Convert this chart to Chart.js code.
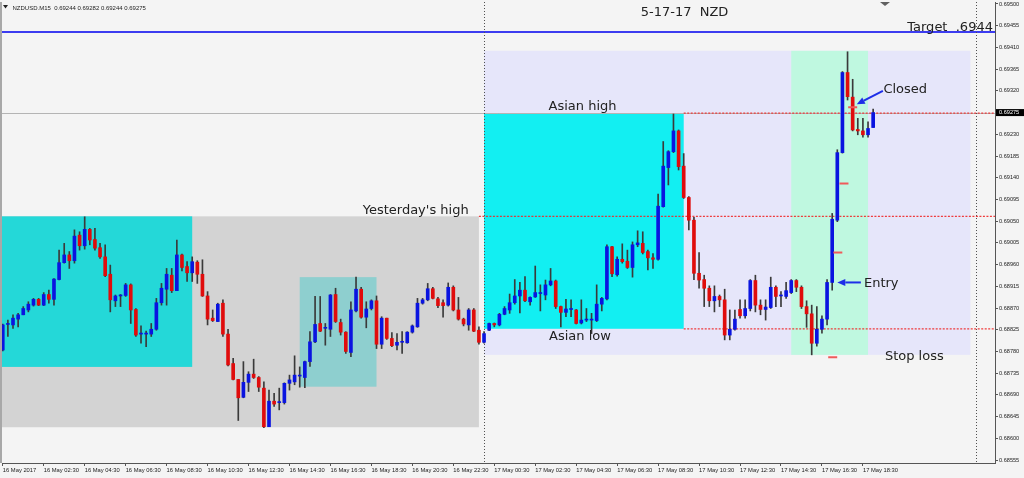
<!DOCTYPE html>
<html>
<head>
<meta charset="utf-8">
<script src="https://cdn.jsdelivr.net/npm/chart.js@4.4.0/dist/chart.umd.min.js"></script>
<style>
html,body{margin:0;padding:0;background:#f4f4f4;overflow:hidden}
canvas{display:block}
</style>
</head>
<body>
<canvas id="c" width="1024" height="478"></canvas>
<script>
// NZDUSD M15, bar 0 = 16 May 00:30, one bar every 15 minutes
const open = [
0.68783,0.68836,0.68835,0.68847,0.68856,0.68866,0.68876,0.68888,0.68876,0.68898,
0.68888,0.68929,0.68964,0.68980,0.68968,0.69021,0.68999,0.69033,0.69012,0.68995,
0.68976,0.68940,0.68885,0.68895,0.68896,0.68918,0.68867,0.68816,0.68816,0.68816,
0.68826,0.68881,0.68909,0.68938,0.68906,0.68980,0.68956,0.68943,0.68965,0.68940,
0.68895,0.68849,0.68842,0.68880,0.68816,0.68755,0.68722,0.68685,0.68716,0.68733,
0.68726,0.68704,0.68624,0.68677,0.68674,0.68674,0.68714,0.68717,0.68729,0.68726,
0.68759,0.68800,0.68838,0.68828,0.68826,0.68898,0.68840,0.68820,0.68778,0.68864,
0.68909,0.68851,0.68869,0.68885,0.68795,0.68849,0.68807,0.68793,0.68799,0.68798,
0.68820,0.68831,0.68880,0.68887,0.68910,0.68889,0.68881,0.68876,0.68913,0.68866,
0.68847,0.68835,0.68866,0.68824,0.68799,0.68824,0.68838,0.68835,0.68857,0.68866,
0.68881,0.68895,0.68907,0.68883,0.68893,0.68900,0.68897,0.68918,0.68926,0.68873,
0.68861,0.68867,0.68866,0.68839,0.68845,0.68845,0.68844,0.68878,0.68889,0.68997,
0.68939,0.68971,0.68967,0.68954,0.69001,0.69004,0.68987,0.68974,0.68971,0.69080,
0.69161,0.69194,0.69237,0.69164,0.69099,0.69052,0.68942,0.68929,0.68911,0.68885,
0.68894,0.68887,0.68814,0.68826,0.68867,0.68854,0.68869,0.68927,0.68876,0.68867,
0.68871,0.68913,0.68895,0.68894,0.68902,0.68927,0.68913,0.68873,0.68858,0.68797,
0.68826,0.68847,0.68923,0.69052,0.69192,0.69358,0.69307,0.69240,0.69237,0.69229,
0.69244];
const high = [
0.68837,0.68845,0.68856,0.68859,0.68873,0.68883,0.68890,0.68890,0.68902,0.68907,
0.68931,0.68990,0.69004,0.68987,0.69032,0.69028,0.69059,0.69035,0.69035,0.69004,
0.69001,0.68959,0.68897,0.68898,0.68921,0.68920,0.68869,0.68833,0.68822,0.68838,
0.68890,0.68921,0.68952,0.68952,0.69011,0.68982,0.68966,0.68976,0.68968,0.68970,
0.68904,0.68866,0.68880,0.68887,0.68826,0.68766,0.68722,0.68759,0.68738,0.68764,
0.68728,0.68717,0.68700,0.68693,0.68704,0.68715,0.68731,0.68771,0.68748,0.68760,
0.68821,0.68894,0.68894,0.68838,0.68898,0.68911,0.68847,0.68821,0.68883,0.68934,
0.68913,0.68883,0.68887,0.68895,0.68852,0.68849,0.68819,0.68817,0.68821,0.68821,
0.68835,0.68890,0.68890,0.68921,0.68913,0.68892,0.68887,0.68922,0.68916,0.68892,
0.68849,0.68869,0.68869,0.68831,0.68821,0.68839,0.68839,0.68859,0.68873,0.68899,
0.68929,0.68923,0.68935,0.68893,0.68957,0.68918,0.68928,0.68952,0.68928,0.68874,
0.68888,0.68887,0.68867,0.68887,0.68869,0.68859,0.68918,0.68892,0.69001,0.68998,
0.68976,0.69003,0.68990,0.69007,0.69030,0.69028,0.68990,0.68983,0.69106,0.69215,
0.69196,0.69272,0.69239,0.69190,0.69101,0.69058,0.68985,0.68938,0.68916,0.68916,
0.68897,0.68909,0.68866,0.68866,0.68887,0.68887,0.68929,0.68938,0.68887,0.68887,
0.68934,0.68916,0.68904,0.68923,0.68929,0.68929,0.68916,0.68885,0.68876,0.68873,
0.68854,0.68929,0.69066,0.69198,0.69360,0.69401,0.69344,0.69263,0.69263,0.69256,
0.69282];
const low = [
0.68781,0.68811,0.68828,0.68831,0.68856,0.68862,0.68874,0.68875,0.68875,0.68880,
0.68876,0.68928,0.68963,0.68952,0.68963,0.68990,0.68992,0.69001,0.68990,0.68973,
0.68935,0.68862,0.68873,0.68873,0.68894,0.68838,0.68811,0.68797,0.68790,0.68811,
0.68824,0.68876,0.68876,0.68902,0.68906,0.68947,0.68925,0.68925,0.68921,0.68894,
0.68835,0.68842,0.68842,0.68811,0.68750,0.68721,0.68637,0.68684,0.68697,0.68724,
0.68697,0.68622,0.68624,0.68666,0.68659,0.68671,0.68700,0.68711,0.68706,0.68705,
0.68749,0.68798,0.68821,0.68793,0.68811,0.68840,0.68814,0.68776,0.68769,0.68862,
0.68849,0.68829,0.68866,0.68786,0.68786,0.68805,0.68790,0.68783,0.68776,0.68797,
0.68818,0.68830,0.68878,0.68885,0.68889,0.68871,0.68851,0.68874,0.68864,0.68845,
0.68833,0.68824,0.68821,0.68795,0.68797,0.68823,0.68831,0.68833,0.68856,0.68859,
0.68878,0.68860,0.68883,0.68876,0.68892,0.68864,0.68887,0.68916,0.68869,0.68831,
0.68852,0.68852,0.68837,0.68837,0.68842,0.68817,0.68842,0.68864,0.68887,0.68935,
0.68936,0.68963,0.68952,0.68934,0.68997,0.68982,0.68949,0.68952,0.68969,0.69079,
0.69125,0.69192,0.69156,0.69097,0.69032,0.68929,0.68911,0.68873,0.68873,0.68862,
0.68873,0.68804,0.68804,0.68824,0.68849,0.68849,0.68864,0.68862,0.68856,0.68845,
0.68869,0.68873,0.68873,0.68890,0.68900,0.68904,0.68869,0.68830,0.68773,0.68791,
0.68818,0.68835,0.68907,0.69049,0.69191,0.69301,0.69237,0.69229,0.69224,0.69224,
0.69244];
const close = [
0.68835,0.68837,0.68849,0.68856,0.68869,0.68878,0.68888,0.68876,0.68898,0.68888,
0.68930,0.68964,0.68980,0.68968,0.69019,0.68999,0.69033,0.69011,0.68994,0.68976,
0.68937,0.68887,0.68895,0.68896,0.68918,0.68866,0.68814,0.68816,0.68816,0.68826,
0.68881,0.68911,0.68940,0.68906,0.68980,0.68954,0.68943,0.68966,0.68940,0.68895,
0.68847,0.68844,0.68878,0.68816,0.68752,0.68722,0.68684,0.68716,0.68733,0.68726,
0.68706,0.68624,0.68677,0.68671,0.68675,0.68714,0.68721,0.68731,0.68729,0.68759,
0.68800,0.68836,0.68822,0.68828,0.68897,0.68842,0.68820,0.68780,0.68866,0.68909,
0.68851,0.68868,0.68885,0.68795,0.68849,0.68807,0.68792,0.68799,0.68799,0.68820,
0.68833,0.68880,0.68887,0.68910,0.68890,0.68875,0.68875,0.68913,0.68866,0.68847,
0.68837,0.68866,0.68822,0.68799,0.68817,0.68838,0.68835,0.68857,0.68869,0.68881,
0.68895,0.68907,0.68885,0.68892,0.68902,0.68901,0.68918,0.68926,0.68873,0.68861,
0.68868,0.68867,0.68838,0.68845,0.68846,0.68846,0.68878,0.68890,0.68997,0.68941,
0.68971,0.68966,0.68954,0.69001,0.69005,0.68985,0.68974,0.68971,0.69081,0.69164,
0.69194,0.69237,0.69163,0.69099,0.69052,0.68942,0.68928,0.68911,0.68885,0.68894,
0.68887,0.68814,0.68826,0.68847,0.68854,0.68869,0.68927,0.68876,0.68867,0.68872,
0.68913,0.68894,0.68895,0.68906,0.68927,0.68913,0.68873,0.68858,0.68797,0.68826,
0.68847,0.68923,0.69054,0.69192,0.69358,0.69308,0.69239,0.69237,0.69229,0.69242,
0.69275];

const xTickBars = [0,8,16,24,32,40,48,56,64,72,80,88,96,104,112,120,128,136,144,152,160,168];
const xTickLabels = ["16 May 2017","16 May 02:30","16 May 04:30","16 May 06:30","16 May 08:30",
  "16 May 10:30","16 May 12:30","16 May 14:30","16 May 16:30","16 May 18:30","16 May 20:30",
  "16 May 22:30","17 May 00:30","17 May 02:30","17 May 04:30","17 May 06:30","17 May 08:30",
  "17 May 10:30","17 May 12:30","17 May 14:30","17 May 16:30","17 May 18:30"];
const yTicks = [0.69500,0.69455,0.69410,0.69365,0.69320,0.69275,0.69230,0.69185,0.69140,0.69095,
  0.69050,0.69005,0.68960,0.68915,0.68870,0.68825,0.68780,0.68735,0.68690,0.68645,0.68600,0.68555];

// boxes: [from bar, to bar, top price, bottom price]
const yesterdayRange = [-2, 93, 0.69060, 0.68623];
const yesterdayAsia = [-2, 37, 0.69060, 0.68748];
const yesterdayMid = [58, 73, 0.68934, 0.68707];
const todayRange = [94, 189, 0.69403, 0.68773];
const todayAsia = [94, 133, 0.69274, 0.68827];
const tradeWindow = [154, 169, 0.69403, 0.68773];

// levels
const targetPrice = 0.69442;
const bidPrice = 0.69275;
const asianHigh = 0.69274, asianLow = 0.68827, yesterdayHigh = 0.69060;
const daySeparators = [94, 190];

// trade marks (bar, price)
const orderBars = [166, 164.3, 163.1, 162.1];
const orderPrices = [0.69286, 0.69128, 0.68985, 0.68768];

// notes: [text, bar, price]
const notes = [
  ["5-17-17  NZD", 124.6, 0.69475],
  ["Asian high", 106.6, 0.69280],
  ["Yesterday's high", 70.3, 0.69065],
  ["Asian low", 106.7, 0.68804],
  ["Closed", 172.0, 0.69316],
  ["Entry", 168.2, 0.68914],
  ["Stop loss", 172.3, 0.68762]
];
const targetNote = ["Target  .6944", 193.4, 0.69445];
// arrows: [from bar, from price, to bar, to price]
const arrows = [
  [171.9, 0.69320, 166.8, 0.69292],
  [167.6, 0.68923, 163.0, 0.68923]
];

Chart.defaults.font.family = "'Liberation Sans', Arial, sans-serif";

const blue = '#0a14e0', red = '#e00c0c';

const drawings = {
  id: 'drawings',
  beforeDraw(ch) {
    const c = ch.ctx;
    c.save();
    c.fillStyle = '#f4f4f4';
    c.fillRect(0, 0, ch.width, ch.height);
    c.restore();
  },
  beforeDatasetsDraw(ch) {
    const c = ch.ctx, a = ch.chartArea, X = ch.scales.x, Y = ch.scales.y;
    c.save();
    c.beginPath();
    c.rect(a.left, a.top, a.right - a.left, a.bottom - a.top);
    c.clip();
    const box = (b, col) => {
      const x0 = X.getPixelForValue(b[0]), x1 = X.getPixelForValue(b[1]);
      const y0 = Y.getPixelForValue(b[2]), y1 = Y.getPixelForValue(b[3]);
      c.fillStyle = col;
      c.fillRect(x0, y0, x1 - x0, y1 - y0);
    };
    box(yesterdayRange, '#d3d3d3');
    box(yesterdayAsia, '#24d8d8');
    box(yesterdayMid, '#8ecfcf');
    box(todayRange, '#e6e6fa');
    box(todayAsia, '#12eff2');
    box(tradeWindow, '#bff8e0');

    // bid line
    let y = Math.round(Y.getPixelForValue(bidPrice)) + 0.5;
    c.strokeStyle = '#b4b4b4';
    c.lineWidth = 1;
    c.beginPath(); c.moveTo(a.left, y); c.lineTo(a.right, y); c.stroke();

    // target
    y = Y.getPixelForValue(targetPrice);
    c.strokeStyle = '#3c3cf0';
    c.lineWidth = 2;
    c.beginPath(); c.moveTo(a.left, y); c.lineTo(a.right, y); c.stroke();

    // day separators
    c.strokeStyle = '#505050';
    c.lineWidth = 1;
    c.setLineDash([1, 2]);
    daySeparators.forEach(b => {
      const x = Math.round(X.getPixelForValue(b)) + 0.5;
      c.beginPath(); c.moveTo(x, a.top); c.lineTo(x, a.bottom); c.stroke();
    });

    // red dotted levels
    c.strokeStyle = 'rgba(240,40,40,0.9)';
    c.lineWidth = 1.3;
    c.setLineDash([2, 1.5]);
    [[133, asianHigh], [93, yesterdayHigh], [133, asianLow]].forEach(l => {
      const yy = Y.getPixelForValue(l[1]);
      c.beginPath(); c.moveTo(X.getPixelForValue(l[0]), yy); c.lineTo(a.right, yy); c.stroke();
    });
    c.restore();
  },
  afterDatasetsDraw(ch) {
    const c = ch.ctx, a = ch.chartArea, X = ch.scales.x, Y = ch.scales.y;
    c.save();
    c.fillStyle = '#222';
    c.font = "13px 'DejaVu Sans'";
    c.textBaseline = 'alphabetic';
    c.textAlign = 'left';
    notes.forEach(n => c.fillText(n[0], X.getPixelForValue(n[1]), Y.getPixelForValue(n[2])));
    c.textAlign = 'right';
    c.fillText(targetNote[0], X.getPixelForValue(targetNote[1]), Y.getPixelForValue(targetNote[2]));

    // arrows
    c.strokeStyle = '#1e2ee8';
    c.fillStyle = '#1e2ee8';
    c.lineWidth = 2;
    arrows.forEach(r => {
      const x1 = X.getPixelForValue(r[0]), y1 = Y.getPixelForValue(r[1]);
      const x2 = X.getPixelForValue(r[2]), y2 = Y.getPixelForValue(r[3]);
      const ang = Math.atan2(y2 - y1, x2 - x1), L = 8, W = 3.5;
      const bx = x2 - L * Math.cos(ang), by = y2 - L * Math.sin(ang);
      c.beginPath(); c.moveTo(x1, y1); c.lineTo(bx, by); c.stroke();
      c.beginPath();
      c.moveTo(x2, y2);
      c.lineTo(bx + W * Math.sin(ang), by - W * Math.cos(ang));
      c.lineTo(bx - W * Math.sin(ang), by + W * Math.cos(ang));
      c.closePath(); c.fill();
    });

    // header
    c.fillStyle = '#222';
    c.beginPath(); c.moveTo(3, 5); c.lineTo(8, 5); c.lineTo(5.5, 8.5); c.closePath(); c.fill();
    c.font = "6px 'Liberation Sans'";
    c.textAlign = 'left';
    c.fillText('NZDUSD.M15  0.69244 0.69282 0.69244 0.69275', 12.5, 9.5);

    // shift marker
    c.fillStyle = '#606060';
    c.beginPath(); c.moveTo(880, 2); c.lineTo(890, 2); c.lineTo(885, 6); c.closePath(); c.fill();

    // left frame
    c.fillStyle = '#a8a8a8';
    c.fillRect(0, a.top, 2, a.bottom - a.top);

    // current price tag
    const yb = Y.getPixelForValue(bidPrice);
    c.fillStyle = '#000';
    c.fillRect(996, yb - 3.5, 28, 7);
    c.fillStyle = '#fff';
    c.font = "5.6px 'Liberation Sans'";
    c.textBaseline = 'middle';
    c.fillText(bidPrice.toFixed(5), 999, yb + 0.3);
    c.restore();
  }
};

const bars = open.map((o, i) => i);

new Chart(document.getElementById('c'), {
  type: 'bar',
  data: {
    datasets: [
      {
        type: 'scatter',
        order: 1,
        data: orderBars.map((b, i) => ({x: b, y: orderPrices[i]})),
        pointStyle: 'line',
        radius: 4.5,
        borderWidth: 2,
        borderColor: '#f05a5a'
      },
      {
        order: 2,
        data: bars.map(i => ({x: i, y: [open[i], close[i]]})),
        backgroundColor: ctx => close[ctx.dataIndex] >= open[ctx.dataIndex] ? blue : red,
        barThickness: 3,
        minBarLength: 1,
        grouped: false,
        borderWidth: 0
      },
      {
        order: 3,
        data: bars.map(i => ({x: i, y: [low[i], high[i]]})),
        backgroundColor: '#3a3a3a',
        barThickness: 1,
        grouped: false,
        borderWidth: 0
      }
    ]
  },
  options: {
    responsive: false,
    animation: false,
    devicePixelRatio: 1,
    events: [],
    layout: {autoPadding: false, padding: {left: 2, top: 2, right: 0, bottom: 0}},
    plugins: {legend: {display: false}, tooltip: {enabled: false}},
    scales: {
      x: {
        type: 'linear',
        min: -0.15,
        max: 193.8,
        bounds: 'data',
        offset: false,
        afterBuildTicks: s => { s.ticks = xTickBars.map(v => ({value: v})); },
        afterFit: s => { s.height = 15; s.paddingLeft = 0; s.paddingRight = 0; },
        grid: {drawOnChartArea: false, tickLength: 3, color: '#555', offset: false},
        border: {color: '#555'},
        ticks: {
          autoSkip: false, maxRotation: 0, minRotation: 0, align: 'start', padding: 1,
          color: '#222', font: {size: 5.8},
          callback: (v, i) => xTickLabels[i]
        }
      },
      y: {
        type: 'linear',
        position: 'right',
        min: 0.685489,
        max: 0.695041,
        bounds: 'data',
        afterBuildTicks: s => { s.ticks = yTicks.map(v => ({value: v})); },
        afterFit: s => { s.width = 29; s.paddingTop = 0; s.paddingBottom = 0; },
        grid: {drawOnChartArea: false, tickLength: 3, color: '#555'},
        border: {color: '#555'},
        ticks: {
          padding: 1, color: '#222', font: {size: 5.6},
          callback: v => v.toFixed(5)
        }
      }
    }
  },
  plugins: [drawings]
});
</script>
</body>
</html>
